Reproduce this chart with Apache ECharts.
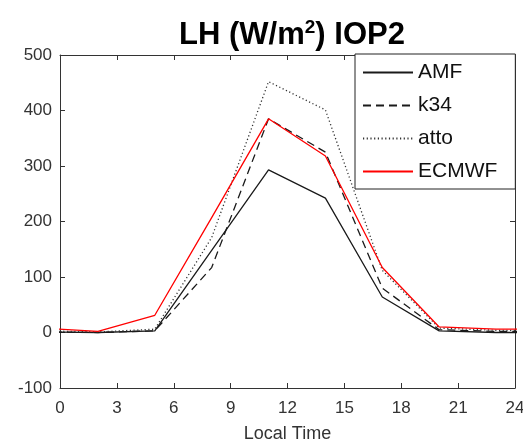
<!DOCTYPE html>
<html>
<head>
<meta charset="utf-8">
<script src="https://cdn.jsdelivr.net/npm/echarts@6/dist/echarts.min.js"></script>
<style>html,body{margin:0;padding:0;background:#fff}#c{width:523px;height:443px}</style>
</head>
<body>
<div id="c"></div>
<script>
var hours = [-1, 2, 5, 8, 11, 14, 17, 20, 23, 26];
var AMF   = [1, 0, 3, 148, 293, 242, 64, 3, 0, 0];
var k34   = [1, 0, 3, 117, 385, 325, 80, 5, 2, 2];
var atto  = [3, 1, 6, 171, 452, 401, 112, 8, 4, 4];
var ECMWF = [8, 2, 31, 207, 385, 318, 117, 10, 6, 6];
var xTicks = [0, 3, 6, 9, 12, 15, 18, 21, 24];
var yTicks = [-100, 0, 100, 200, 300, 400, 500];

function pairs(v){ return hours.map(function(h,i){ return [h, v[i]]; }); }
var font = 'Liberation Sans, Arial, sans-serif';
var chart = echarts.init(document.getElementById('c'), null, {renderer:'canvas'});
function mk(name, data, color, type){
  return {name:name, type:'line', data:pairs(data), symbol:'none', showSymbol:false, clip:true,
    lineStyle:{color:color, width:1.3, type:type}, itemStyle:{color:color}, animation:false};
}
var axLine = {onZero:false, show:true, lineStyle:{color:'#333', width:1}};
var axTick = {show:true, inside:true, length:5, lineStyle:{color:'#333'}};
chart.setOption({
  animation:false,
  title:{text:'LH (W/m{s|2}) IOP2', left:287, textAlign:'center', top:13,
    textStyle:{fontFamily:font, fontSize:31, fontWeight:'bold', color:'#000',
      rich:{s:{fontSize:19, fontWeight:'bold', verticalAlign:'top', padding:[0,0,15,0], fontFamily:font, color:'#000'}}}},
  grid:{left:60, right:8, top:55, bottom:55, outerBoundsMode:'none', containLabel:false},
  legend:{orient:'vertical', left:355, top:54, itemWidth:50, itemHeight:21, itemGap:12,
    backgroundColor:'#fff', borderColor:'#222', borderWidth:1, borderRadius:0,
    padding:[8,18,7,7],
    itemStyle:{opacity:0},
    textStyle:{fontFamily:font, fontSize:21, color:'#111'},
    data:['AMF','k34','atto','ECMWF']},
  xAxis:[{type:'value', min:0, max:24, interval:3, position:'bottom',
      name:'Local Time', nameLocation:'middle', nameGap:37,
      nameTextStyle:{fontFamily:font, fontSize:18, color:'#333'},
      axisLine:axLine, axisTick:axTick,
      axisLabel:{fontFamily:font, fontSize:17, color:'#333', margin:12},
      splitLine:{show:false}},
    {type:'value', min:0, max:24, interval:3, position:'top',
      axisLine:axLine, axisTick:axTick,
      axisLabel:{show:false}, splitLine:{show:false}}],
  yAxis:[{type:'value', min:-100, max:500, interval:100, position:'left',
      axisLine:axLine, axisTick:axTick,
      axisLabel:{fontFamily:font, fontSize:17, color:'#333', margin:8},
      splitLine:{show:false}},
    {type:'value', min:-100, max:500, interval:100, position:'right',
      axisLine:axLine, axisTick:axTick,
      axisLabel:{show:false}, splitLine:{show:false}}],
  series:[
    mk('AMF', AMF, '#1a1a1a', 'solid'),
    mk('k34', k34, '#1a1a1a', [8,5]),
    mk('atto', atto, '#333333', [1.2,2.5]),
    mk('ECMWF', ECMWF, '#ff0000', 'solid')
  ]
});
</script>
</body>
</html>
